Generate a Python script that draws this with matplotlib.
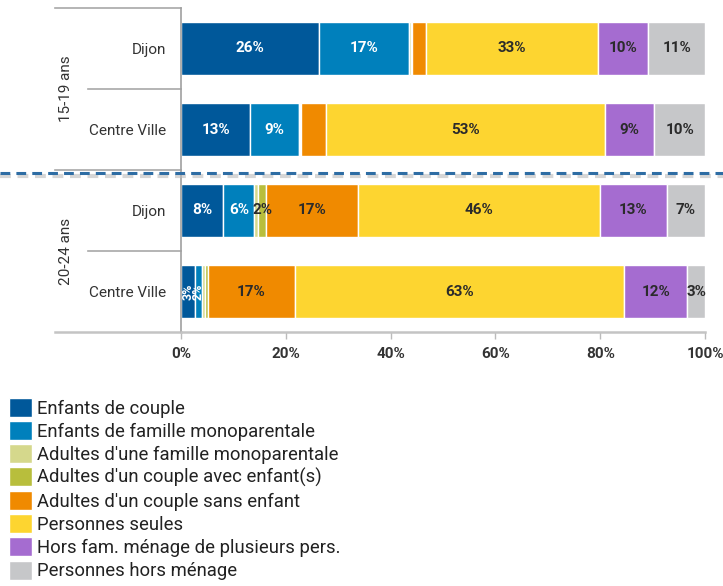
import matplotlib
matplotlib.use("Agg")
import matplotlib.pyplot as plt
from matplotlib.lines import Line2D
import matplotlib.transforms as mtransforms
import numpy as np

plt.rcParams['font.family'] = ['Roboto', 'DejaVu Sans']

series = ["Enfants de couple", "Enfants de famille monoparentale",
          "Adultes d'une famille monoparentale", "Adultes d'un couple avec enfant(s)",
          "Adultes d'un couple sans enfant", "Personnes seules",
          "Hors fam. ménage de plusieurs pers.", "Personnes hors ménage"]
colors = ["#00589A", "#0080BC", "#D5D88C", "#B8BE3C", "#F08A00", "#FDD530", "#A56CD0", "#C6C7C9"]
label_colors = ["white", "white", "#2b2b2b", "#2b2b2b", "#2b2b2b", "#2b2b2b", "#2b2b2b", "#2b2b2b"]

rows = ["Dijon", "Centre Ville", "Dijon", "Centre Ville"]
groups = ["15-19 ans", "20-24 ans"]

# values in % per row (Dijon 15-19, CV 15-19, Dijon 20-24, CV 20-24)
values = np.array([
    [26.4, 17.2, 0.2, 0.3, 2.6, 32.8, 9.7, 10.8],
    [13.2, 9.4, 0.1, 0.2, 4.8, 53.3, 9.3, 9.7],
    [8.1, 5.9, 0.7, 1.6, 17.4, 46.2, 12.8, 7.3],
    [2.6, 1.5, 0.4, 0.6, 16.6, 62.9, 12.0, 3.4],
])
# 0 = no label, 1 = horizontal label, 2 = vertical label
show_label = np.array([
    [1, 1, 0, 0, 0, 1, 1, 1],
    [1, 1, 0, 0, 0, 1, 1, 1],
    [1, 1, 0, 1, 1, 1, 1, 1],
    [2, 2, 0, 0, 1, 1, 1, 1],
])
xticks = [0, 20, 40, 60, 80, 100]

W, H = 723, 586
fig = plt.figure(figsize=(W / 100, H / 100), dpi=100)

def fx(x):
    return x / W

def fy(y):
    return 1 - y / H

ax = fig.add_axes([fx(181), fy(332), fx(705) - fx(181), (332 - 8) / H])
ypos = np.arange(len(rows))
left = np.zeros(len(rows))
for j, name in enumerate(series):
    ax.barh(ypos, values[:, j], left=left, height=0.655, color=colors[j],
            edgecolor="white", linewidth=1.0, label=name)
    for i in range(len(rows)):
        if show_label[i, j]:
            cx = left[i] + values[i, j] / 2
            txt = f"{round(values[i, j]):.0f}%"
            rot = 90 if show_label[i, j] == 2 else 0
            ax.text(cx, ypos[i], txt, ha="center", va="center", rotation=rot,
                    color=label_colors[j], fontsize=11 if rot == 0 else 9,
                    fontweight="bold")
    left += values[:, j]

ax.set_xlim(0, 100)
ax.set_ylim(3.5, -0.5)
ax.set_xticks(xticks)
ax.set_xticklabels([f"{t}%" for t in xticks], fontsize=11, fontweight="bold", color="#333333")
ax.tick_params(axis="x", length=5, width=1, color="#BBBBBB", pad=6)
ax.set_yticks(ypos)
ax.set_yticklabels(rows, fontsize=11, color="#333333")
ax.tick_params(axis="y", length=0, pad=11)
for s in ["top", "right"]:
    ax.spines[s].set_visible(False)
ax.spines["left"].set_color("#A0A0A0")
ax.spines["left"].set_linewidth(1.2)
ax.spines["bottom"].set_color("#C4C4C4")
ax.spines["bottom"].set_linewidth(1.8)

# table lines on the left
trans = mtransforms.blended_transform_factory(fig.transFigure, ax.transData)
for yv, x0 in [(-0.5, 55), (0.5, 88), (1.5, 55), (2.5, 88)]:
    ax.add_line(Line2D([fx(x0), fx(181)], [yv, yv], transform=trans, color="#A8A8A8",
                       linewidth=1.2, clip_on=False))
ax.add_line(Line2D([fx(55), fx(181)], [3.5, 3.5], transform=trans, color="#C4C4C4",
                   linewidth=1.8, clip_on=False))

# group labels
for g, yc in zip(groups, [0.5, 2.5]):
    ax.text(fx(66), yc, g, transform=trans, rotation=90, ha="center", va="center",
            fontsize=11, color="#333333", clip_on=False)

# dashed separator with shadow
fig.add_artist(Line2D([0, 1], [fy(176), fy(176)], transform=fig.transFigure,
                      color="#BBBBBB", linewidth=3, alpha=0.6, linestyle=(0, (2.6, 1.6))))
fig.add_artist(Line2D([0, 1], [fy(173), fy(173)], transform=fig.transFigure,
                      color="#2E6DA4", linewidth=2.2, linestyle=(0, (3.2, 2.0))))

# legend
handles = [plt.Rectangle((0, 0), 1, 1, facecolor=c, edgecolor="white") for c in colors]
leg = fig.legend(handles, series, loc="upper left", bbox_to_anchor=(fx(7), fy(396)),
                 frameon=False, fontsize=13.3, handlelength=1.25, handleheight=1.2,
                 handletextpad=0.25, labelspacing=0.19, borderaxespad=0, borderpad=0.1)
for t in leg.get_texts():
    t.set_color("#222222")

fig.savefig("out.png", dpi=100)
